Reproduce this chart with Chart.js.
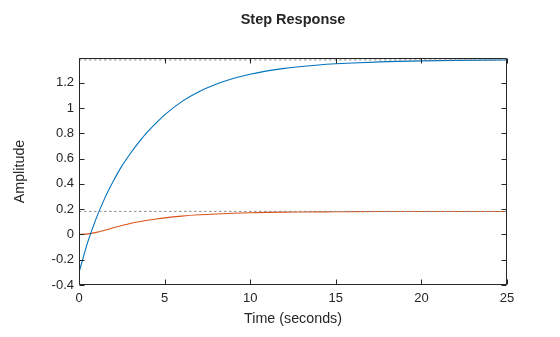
<!DOCTYPE html>
<html>
<head>
<meta charset="utf-8">
<script src="https://cdn.jsdelivr.net/npm/chart.js@4"></script>
<style>
html,body{margin:0;padding:0;background:#fff;}
#wrap{width:560px;height:337px;}
</style>
</head>
<body>
<div id="wrap"><canvas id="c" width="560" height="337"></canvas></div>
<script>
// ---- data ----
const timeSec = [0,0.5,1,1.5,2,2.5,3,3.5,4,4.5,5,6,7,8,9,10,11,12,13,14,15,16,18,20,22,25];
const blueAmp = [-0.30,-0.065,0.125,0.285,0.42,0.54,0.64,0.73,0.81,0.88,0.945,1.05,1.128,1.187,1.233,1.267,1.293,1.313,1.328,1.340,1.349,1.356,1.366,1.372,1.376,1.379];
const orangeAmp = [0,0.004,0.016,0.033,0.052,0.07,0.086,0.1,0.112,0.122,0.131,0.145,0.155,0.162,0.167,0.171,0.174,0.176,0.177,0.178,0.179,0.18,0.181,0.181,0.181,0.181];
const steadyStates = [1.38, 0.182];
const timeRange = [0, 25];
const xTicks = [0,5,10,15,20,25];
const yTicks = [-0.4,-0.2,0,0.2,0.4,0.6,0.8,1,1.2];
const yRange = [-0.4, 1.395];

const FONT = '"Liberation Sans", Arial, Helvetica, sans-serif';
const INK = '#262626';

const pts = (xs, ys) => xs.map((x, i) => ({x, y: ys[i]}));

const framePlugin = {
  id: 'frame',
  afterDatasetsDraw(chart) {
    const {ctx, chartArea: a, scales: {x, y}} = chart;
    ctx.save();
    ctx.strokeStyle = INK;
    ctx.lineWidth = 1;
    const L = Math.round(a.left) + 0.5, R = Math.round(a.right) - 0.5;
    const T = Math.round(a.top) + 0.5, B = Math.round(a.bottom) - 0.5;
    ctx.beginPath();
    ctx.rect(L, T, R - L, B - T);
    const tl = 5;
    xTicks.forEach(v => {
      const px = Math.round(x.getPixelForValue(v)) + 0.5;
      ctx.moveTo(px, B); ctx.lineTo(px, B - tl);
      ctx.moveTo(px, T); ctx.lineTo(px, T + tl);
    });
    yTicks.forEach(v => {
      const py = Math.round(y.getPixelForValue(v)) + 0.5;
      ctx.moveTo(L, py); ctx.lineTo(L + tl, py);
      ctx.moveTo(R, py); ctx.lineTo(R - tl, py);
    });
    ctx.stroke();
    // title centred over the axes
    ctx.fillStyle = INK;
    ctx.font = 'bold 14.5px ' + FONT;
    ctx.textAlign = 'center';
    ctx.textBaseline = 'alphabetic';
    ctx.fillText('Step Response', (a.left + a.right) / 2, 24);
    ctx.restore();
  }
};

new Chart(document.getElementById('c'), {
  type: 'line',
  data: {
    datasets: [
      {
        label: 'Steady state 1',
        data: pts(timeRange, [steadyStates[0], steadyStates[0]]),
        borderColor: '#8c8c8c', borderWidth: 1, borderDash: [2.5, 2.5],
        pointRadius: 0, fill: false
      },
      {
        label: 'Steady state 2',
        data: pts(timeRange, [steadyStates[1], steadyStates[1]]),
        borderColor: '#8c8c8c', borderWidth: 1, borderDash: [2.5, 2.5],
        pointRadius: 0, fill: false
      },
      {
        label: 'Output 1',
        data: pts(timeSec, blueAmp),
        borderColor: '#0072BD', borderWidth: 1.1,
        pointRadius: 0, fill: false, cubicInterpolationMode: 'monotone'
      },
      {
        label: 'Output 2',
        data: pts(timeSec, orangeAmp),
        borderColor: '#D95319', borderWidth: 1.1,
        pointRadius: 0, fill: false, cubicInterpolationMode: 'monotone'
      }
    ]
  },
  options: {
    responsive: false,
    animation: false,
    devicePixelRatio: 1,
    layout: {padding: {top: 58, right: 53, bottom: 0, left: 0}},
    plugins: {
      legend: {display: false},
      title: {display: false},
      tooltip: {enabled: false}
    },
    scales: {
      x: {
        type: 'linear',
        min: timeRange[0], max: timeRange[1],
        grid: {display: false, drawTicks: false},
        border: {display: false},
        ticks: {
          stepSize: 5, padding: 6, color: INK,
          font: {family: FONT, size: 13},
          maxRotation: 0
        },
        afterBuildTicks: s => { s.ticks = xTicks.map(v => ({value: v})); },
        afterFit: s => { s.height = 52; },
        title: {
          display: true, text: 'Time (seconds)', color: INK,
          font: {family: FONT, size: 14.3},
          padding: {top: 0, bottom: 9.5}
        }
      },
      y: {
        type: 'linear',
        min: yRange[0], max: yRange[1],
        grid: {display: false, drawTicks: false},
        border: {display: false},
        ticks: {
          padding: 5, color: INK,
          font: {family: FONT, size: 13},
          callback: v => String(Math.round(v * 10) / 10)
        },
        afterBuildTicks: s => { s.ticks = yTicks.map(v => ({value: v})); },
        afterFit: s => { s.width = 79; },
        title: {
          display: true, text: 'Amplitude', color: INK,
          font: {family: FONT, size: 14.3},
          padding: {top: 11, bottom: 0}
        }
      }
    }
  },
  plugins: [framePlugin]
});
</script>
</body>
</html>
